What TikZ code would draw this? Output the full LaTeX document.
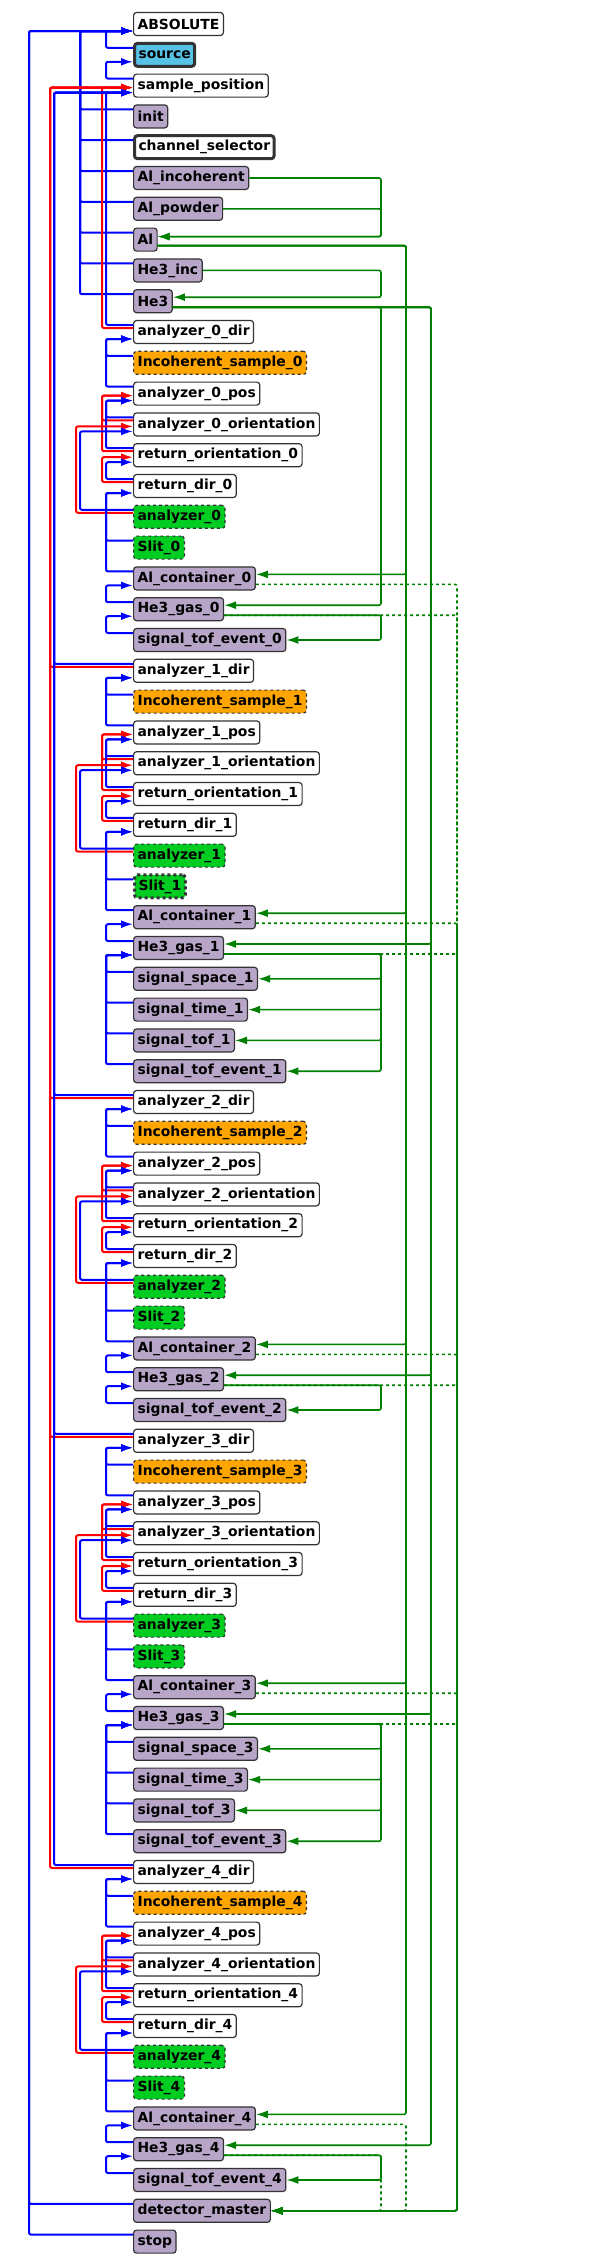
\documentclass[tikz,border=0pt]{standalone}
\usepackage{fontspec}
\setmainfont{DejaVu Sans}
\usetikzlibrary{calc,arrows.meta}

\definecolor{purp}{RGB}{184,166,201}
\definecolor{cyanb}{RGB}{86,194,230}
\definecolor{orng}{RGB}{255,165,0}
\definecolor{grn}{RGB}{0,204,34}
\definecolor{dgrn}{RGB}{0,128,0}

\tikzset{
  comp/.style={draw=black!80, line width=1.2pt, rounded corners=3pt, fill=white,
    anchor=west, minimum height=23pt, inner xsep=4pt, inner ysep=0pt,
    font=\fontsize{13.9}{16}\selectfont\bfseries},
  purpbox/.style={comp, fill=purp},
  srcbox/.style={comp, fill=cyanb, line width=3pt},
  chanbox/.style={comp, line width=3pt},
  smpbox/.style={comp, fill=orng, dashed},
  monbox/.style={comp, fill=grn, dashed},
  slitbox/.style={comp, fill=grn, dashed, line width=3pt},
  bl/.style={blue, line width=2pt, rounded corners=2pt, -{Latex[length=12pt,width=8pt]}},
  rd/.style={red, line width=2pt, rounded corners=2pt, -{Latex[length=12pt,width=8pt]}},
  gl/.style={dgrn, line width=1.6pt, rounded corners=2pt, -{Latex[length=12pt,width=8pt]}},
  gd/.style={dgrn, line width=1.6pt, rounded corners=2pt, dashed, -{Latex[length=12pt,width=8pt]}}
}

% link from left side: style, from, to, lane, out shift, in shift
\newcommand\lnkw[6]{
  \coordinate (o) at ([yshift=#5]#2.west);
  \coordinate (i) at ([yshift=#6]#3.west);
  \draw[#1] (o) -- (o -| #4) |- (i);
}
% link from right side
\newcommand\lnke[6]{
  \coordinate (o) at ([yshift=#5]#2.east);
  \coordinate (i) at ([yshift=#6]#3.east);
  \draw[#1] (o) -- (o -| #4) |- (i);
}

\begin{document}
\begin{tikzpicture}[x=1pt,y=1pt]
  \useasboundingbox (0,0) rectangle (600,-2268);

  % lanes
  \coordinate (bO) at (29,0);
  \coordinate (rA) at (50,0);
  \coordinate (bA) at (54,0);
  \coordinate (rR) at (76,0);
  \coordinate (bM) at (80,0);
  \coordinate (rI) at (102,0);
  \coordinate (bI) at (106,0);
  \coordinate (g1) at (381,0);
  \coordinate (g2) at (406,0);
  \coordinate (g3) at (431,0);
  \coordinate (g4) at (457,0);

  % top part
  \node[comp]    (abs)    at (133,-24)    {ABSOLUTE};
  \node[srcbox]  (src)    at (133,-54.8)  {source};
  \node[comp]    (smp)    at (133,-85.6)  {sample\_position};
  \node[purpbox] (init)   at (133,-116.4) {init};
  \node[chanbox] (chsel)  at (133,-147.2) {channel\_selector};
  \node[purpbox] (alinc)  at (133,-178)   {Al\_incoherent};
  \node[purpbox] (alpow)  at (133,-208.8) {Al\_powder};
  \node[purpbox] (al)     at (133,-239.6) {Al};
  \node[purpbox] (heinc)  at (133,-270.4) {He3\_inc};
  \node[purpbox] (he)     at (133,-301.2) {He3};
  \node[purpbox] (detm)   at (133,-2210.8) {detector\_master};
  \node[purpbox] (stop)   at (133,-2241.6) {stop};

  \lnkw{bl}{src}{abs}{bI}{7pt}{-7pt}
  \lnkw{bl}{smp}{src}{bI}{7pt}{-7pt}
  \foreach \n in {init,chsel,alinc,alpow,al,heinc,he}
    {\lnkw{bl}{\n}{abs}{bM}{7pt}{-7pt}}
  \lnkw{bl}{detm}{abs}{bO}{7pt}{-7pt}
  \lnkw{bl}{stop}{abs}{bO}{7pt}{-7pt}
  \lnke{gl}{alinc}{al}{g1}{0pt}{3pt}
  \lnke{gl}{alpow}{al}{g1}{0pt}{3pt}
  \lnke{gl}{heinc}{he}{g1}{0pt}{4pt}

  % analyzer blocks
  \foreach \k/\b/\lng in {0/10/0, 1/21/1, 2/35/0, 3/46/1, 4/60/0} {
    \pgfmathsetmacro\yy{-(24+30.8*\b)}
    \begin{scope}[yshift=\yy pt]
      \node[comp] (dir\k)  at (133,0)      {analyzer\_\k\_dir};
      \node[smpbox] (inc\k) at (133,-30.8) {Incoherent\_sample\_\k};
      \node[comp] (pos\k)  at (133,-61.6)  {analyzer\_\k\_pos};
      \node[comp] (ori\k)  at (133,-92.4)  {analyzer\_\k\_orientation};
      \node[comp] (rori\k) at (133,-123.2) {return\_orientation\_\k};
      \node[comp] (rdir\k) at (133,-154)   {return\_dir\_\k};
      \node[monbox] (ana\k) at (133,-184.8) {analyzer\_\k};
      \ifnum\k=1
        \node[slitbox] (slit\k) at (133,-215.6) {Slit\_\k};
      \else
        \node[monbox] (slit\k) at (133,-215.6) {Slit\_\k};
      \fi
      \node[purpbox] (alc\k) at (133,-246.4) {Al\_container\_\k};
      \node[purpbox] (heg\k) at (133,-277.2) {He3\_gas\_\k};
      \ifnum\lng=1
        \node[purpbox] (ssp\k) at (133,-308)   {signal\_space\_\k};
        \node[purpbox] (stm\k) at (133,-338.8) {signal\_time\_\k};
        \node[purpbox] (stf\k) at (133,-369.6) {signal\_tof\_\k};
        \node[purpbox] (sev\k) at (133,-400.4) {signal\_tof\_event\_\k};
      \else
        \node[purpbox] (sev\k) at (133,-308)   {signal\_tof\_event\_\k};
      \fi
    \end{scope}

    % placement links
    \ifnum\k=0
      \lnkw{rd}{dir\k}{smp}{rI}{4pt}{-2pt}
      \lnkw{bl}{dir\k}{smp}{bI}{7pt}{-7pt}
    \else
      \lnkw{rd}{dir\k}{smp}{rA}{4pt}{-2pt}
      \lnkw{bl}{dir\k}{smp}{bA}{7pt}{-7pt}
    \fi
    \lnkw{bl}{inc\k}{dir\k}{bI}{7pt}{-7pt}
    \lnkw{bl}{pos\k}{dir\k}{bI}{7pt}{-7pt}
    \foreach \n/\t in {ori/pos, rori/pos, rdir/rori} {
      \lnkw{rd}{\n\k}{\t\k}{rI}{4pt}{-2pt}
      \lnkw{bl}{\n\k}{\t\k}{bI}{7pt}{-7pt}
    }
    \lnkw{rd}{ana\k}{ori\k}{rR}{4pt}{-2pt}
    \lnkw{bl}{ana\k}{ori\k}{bM}{7pt}{-7pt}
    \lnkw{bl}{slit\k}{rdir\k}{bI}{7pt}{-7pt}
    \lnkw{bl}{alc\k}{rdir\k}{bI}{7pt}{-7pt}
    \lnkw{bl}{heg\k}{alc\k}{bI}{7pt}{-7pt}
    \lnkw{bl}{sev\k}{heg\k}{bI}{7pt}{-7pt}
    \ifnum\lng=1
      \foreach \s in {ssp,stm,stf} {
        \lnkw{bl}{\s\k}{heg\k}{bI}{7pt}{-7pt}
        \lnke{gl}{heg\k}{\s\k}{g1}{-6pt}{0pt}
      }
    \fi
    \lnke{gl}{heg\k}{sev\k}{g1}{-6pt}{0pt}

    % material and detector links
    \lnke{gl}{al}{alc\k}{g2}{-6pt}{4pt}
    \ifnum\k=0
      \lnke{gl}{he}{heg\k}{g1}{-6pt}{4pt}
    \else
      \lnke{gl}{he}{heg\k}{g3}{-6pt}{4pt}
    \fi
    \ifnum\k=4
      \lnke{gd}{alc\k}{detm}{g2}{-6pt}{0pt}
      \lnke{gd}{heg\k}{detm}{g1}{-6pt}{0pt}
    \else
      \lnke{gd}{alc\k}{detm}{g4}{-6pt}{0pt}
      \lnke{gd}{heg\k}{detm}{g4}{-6pt}{0pt}
    \fi
  }
\end{tikzpicture}
\end{document}
